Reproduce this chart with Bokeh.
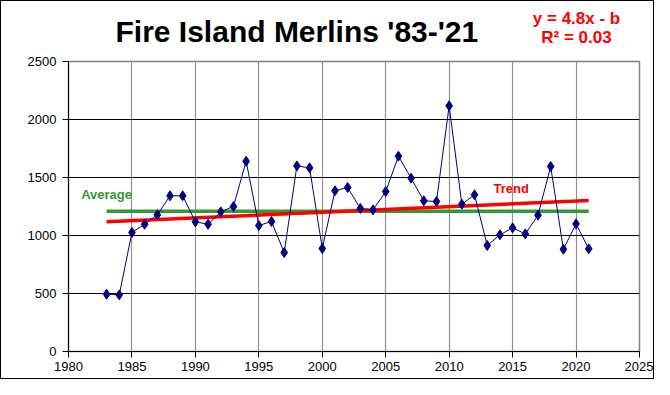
import numpy as np
from bokeh.plotting import figure
from bokeh.layouts import column
from bokeh.models import Label, Range1d, FixedTicker
from bokeh.embed import file_html
from bokeh.resources import INLINE

years = list(range(1983, 2022))
counts = [494, 488, 1026, 1097, 1178, 1342, 1342, 1118, 1097, 1204,
          1250, 1640, 1086, 1121, 853, 1600, 1583, 888, 1385, 1414,
          1233, 1221, 1379, 1684, 1494, 1299, 1293, 2118, 1270, 1351,
          914, 1006, 1066, 1014, 1175, 1595, 882, 1100, 885]
x_ticks = [1980, 1985, 1990, 1995, 2000, 2005, 2010, 2015, 2020, 2025]
y_ticks = [0, 500, 1000, 1500, 2000, 2500]
title_text = "Fire Island Merlins '83-'21"
eq_text = "y = 4.8x - b"
r2_text = "R\u00b2 = 0.03"

avg = float(np.mean(counts))
slope, intercept = np.polyfit(years, counts, 1)
trend_x = [years[0], years[-1]]
trend_y = [slope * yr + intercept for yr in trend_x]

FONT = "Liberation Sans"
BORDER = 1
W = 654 - 2 * BORDER
HEAD_H = 53 - BORDER
MAIN_H = 379 - 2 * BORDER - HEAD_H
FRAME_L, FRAME_R = 68, 639

# ---- header (title and regression text); its frame aligns with the chart frame ----
head = figure(width=W, height=HEAD_H, output_backend="svg", toolbar_location=None,
              x_range=Range1d(FRAME_L, FRAME_R), y_range=Range1d(53, BORDER),
              x_axis_location=None, y_axis_location=None,
              min_border=0, min_border_left=0, min_border_right=0,
              min_border_top=0, min_border_bottom=0)
head.grid.visible = False
head.outline_line_color = None
head.background_fill_color = "white"
head.border_fill_color = "white"
head.add_layout(Label(x=115, y=31, text=title_text, text_font=FONT,
                      text_font_style="bold", text_font_size="30px",
                      text_color="black", text_baseline="alphabetic"))
head.add_layout(Label(x=576, y=18, text=eq_text, text_font=FONT,
                      text_font_style="bold", text_font_size="17px",
                      text_color="#ff0000", text_align="center",
                      text_baseline="alphabetic"))
head.add_layout(Label(x=576, y=37, text=r2_text, text_font=FONT,
                      text_font_style="bold", text_font_size="17px",
                      text_color="#ff0000", text_align="center",
                      text_baseline="alphabetic"))

# ---- main chart ----
p = figure(width=W, height=MAIN_H, output_backend="svg", toolbar_location=None,
           x_range=Range1d(1980, 2025), y_range=Range1d(0, 2500),
           min_border_left=FRAME_L - BORDER,
           min_border_right=W - (FRAME_R - BORDER),
           min_border_top=8, min_border_bottom=MAIN_H - (351 - 53))
p.background_fill_color = "white"
p.border_fill_color = "white"
p.outline_line_color = "#808080"
p.outline_line_width = 1.5

p.xaxis.ticker = FixedTicker(ticks=x_ticks)
p.yaxis.ticker = FixedTicker(ticks=y_ticks)
for ax in (p.xaxis[0], p.yaxis[0]):
    ax.axis_line_color = "black"
    ax.major_tick_line_color = "black"
    ax.major_tick_out = 6
    ax.major_tick_in = 0
    ax.minor_tick_line_color = None
    ax.major_label_text_font = FONT
    ax.major_label_text_font_size = "13px"
    ax.major_label_text_color = "black"
p.yaxis.major_label_standoff = 6
p.xaxis.major_label_standoff = 4

p.xgrid.grid_line_color = "#909090"
p.xgrid.grid_line_width = 1.2
p.ygrid.grid_line_color = "black"
p.ygrid.grid_line_width = 1

p.line([years[0], years[-1]], [avg, avg], line_color="#339933", line_width=3.5)
p.line(trend_x, trend_y, line_color="#ff0000", line_width=3.5)
p.line(years, counts, line_color="#000080", line_width=1)
p.scatter(years, counts, marker="diamond", size=10, fill_color="#000080",
          line_color="#000080")

p.add_layout(Label(x=1981.0, y=1355, text="Average", text_font=FONT,
                   text_font_style="bold", text_font_size="13px",
                   text_color="#339933", text_baseline="alphabetic"))
p.add_layout(Label(x=2013.5, y=1402, text="Trend", text_font=FONT,
                   text_font_style="bold", text_font_size="13px",
                   text_color="#ff0000", text_baseline="alphabetic"))

layout = column(head, p, spacing=0,
                styles={"border": f"{BORDER}px solid black"})
open("out.html", "w").write(file_html(layout, INLINE))
